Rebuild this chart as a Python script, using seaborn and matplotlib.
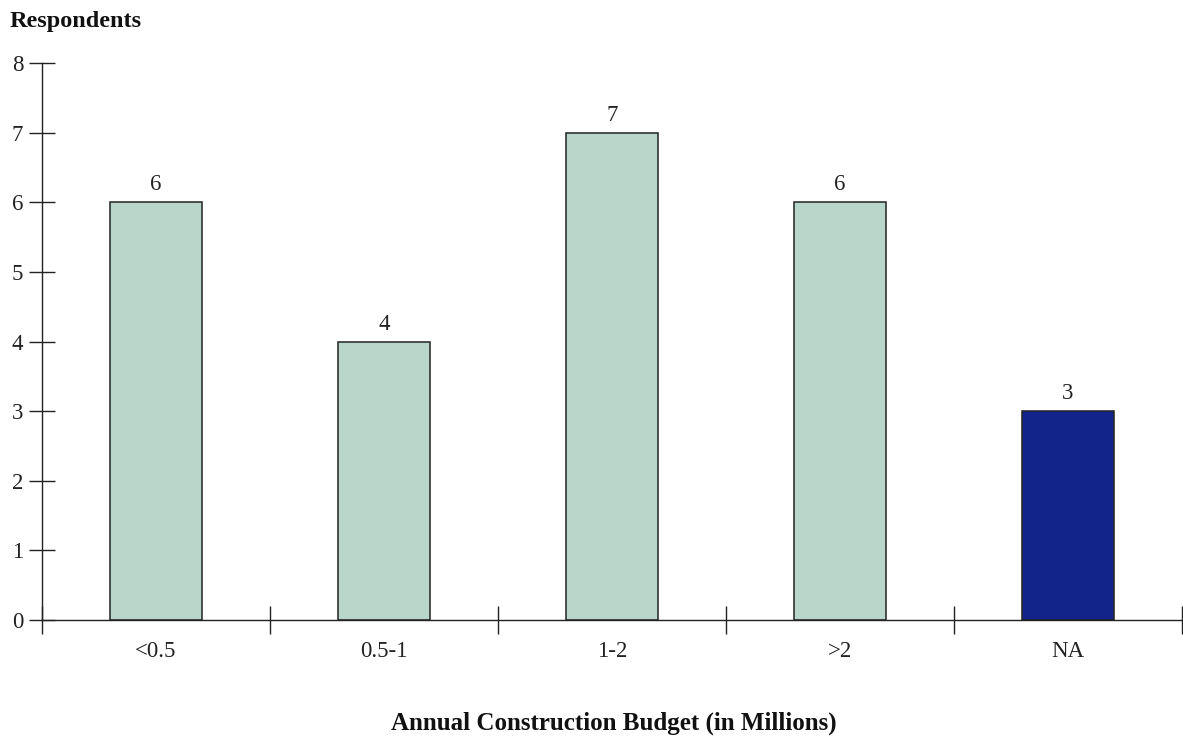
import matplotlib
matplotlib.use("Agg")
import matplotlib.pyplot as plt
import seaborn as sns
import pandas as pd

categories = ["<0.5", "0.5-1", "1-2", ">2", "NA"]
values = [6, 4, 7, 6, 3]
colors = ["#b8d6ca", "#b8d6ca", "#b8d6ca", "#b8d6ca", "#12238a"]
yticks = [0, 1, 2, 3, 4, 5, 6, 7, 8]

sns.set_theme(style="white")
plt.rcParams["font.family"] = ["Liberation Serif", "DejaVu Serif"]

df = pd.DataFrame({"cat": categories, "val": values})

fig = plt.figure(figsize=(11.83, 7.41), dpi=100)
ax = fig.add_axes([42 / 1183, 1 - 620 / 741, 1140 / 1183, (620 - 63) / 741])

sns.barplot(data=df, x="cat", y="val", hue="cat", palette=colors, legend=False,
            width=0.4, edgecolor="#222222", linewidth=1.1, ax=ax, saturation=1)

for i, v in enumerate(values):
    ax.text(i, v + 0.1, str(v), ha="center", va="bottom", fontsize=16.5, color="#222222")

ax.set_xlim(-0.5, 4.5)
ax.set_ylim(0, 8)
ax.set_yticks(yticks)
ax.set_yticklabels([str(t) for t in yticks], fontsize=16.5, color="#222222")
ax.set_xticks(range(len(categories)))
ax.set_xticklabels(categories, fontsize=16.5, color="#222222")
ax.set_xticks([i - 0.5 for i in range(len(categories) + 1)], minor=True)
ax.tick_params(axis="x", which="major", length=0, pad=15)
ax.tick_params(axis="x", which="minor", length=20, width=1, direction="inout", color="#222222", bottom=True)
ax.tick_params(axis="y", which="major", length=19, width=1, direction="inout", color="#222222", left=True, pad=4)

for s in ["top", "right"]:
    ax.spines[s].set_visible(False)
for s in ["left", "bottom"]:
    ax.spines[s].set_color("#222222")
    ax.spines[s].set_linewidth(1)
ax.set_ylabel("")
ax.set_xlabel("")
ax.grid(False)

fig.text(10 / 1183, 1 - 22 / 741, "Respondents", fontsize=17.5, fontweight="bold",
         ha="left", va="center", color="#111111")
fig.text(614 / 1183, 1 - 723 / 741, "Annual Construction Budget (in Millions)", fontsize=18,
         fontweight="bold", ha="center", va="center", color="#111111")

fig.savefig("out.png", dpi=100)
